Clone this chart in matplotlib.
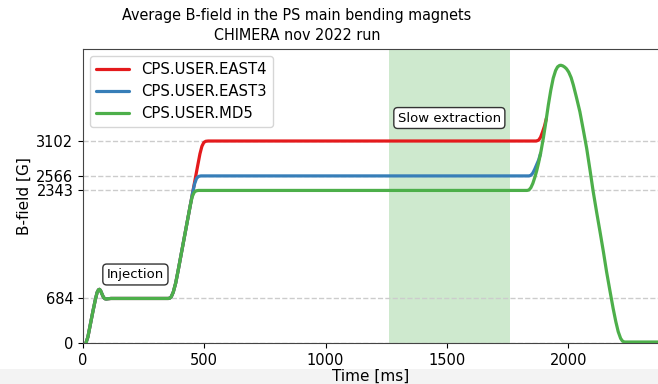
import matplotlib
matplotlib.use("Agg")
import matplotlib.pyplot as plt
from matplotlib.patches import Rectangle

# ---- data ----
# common injection / first ramp part (all cycles identical)
t_inj = [12, 20, 30, 40, 50, 58, 64, 68, 72, 78, 84, 90, 96, 104, 115,
         352, 358, 364, 372, 382, 392, 402, 412, 422, 432, 442]
b_inj = [0, 90, 280, 470, 650, 775, 818, 824, 808, 755, 705, 680, 676, 680, 684,
         684, 690, 712, 780, 920, 1110, 1310, 1510, 1710, 1910, 2110]

t_md5 = [450, 458, 466, 476,
         1830, 1838, 1846, 1854, 1862, 1870, 1878, 1888, 1898, 1908, 1918, 1928, 1938,
         1948, 1956, 1964, 1970, 1978, 1986, 1993, 2002, 2012, 2021, 2034, 2048, 2062,
         2076, 2090, 2103, 2117, 2131, 2145, 2158, 2172, 2185, 2196, 2206, 2216, 2224,
         2232, 2370]
b_md5 = [2245, 2312, 2337, 2343,
         2343, 2350, 2385, 2450, 2540, 2645, 2770, 2950, 3160, 3400, 3655, 3880, 4065,
         4185, 4240, 4262, 4265, 4255, 4235, 4210, 4160, 4075, 3962, 3770, 3552, 3275,
         2990, 2650, 2323, 2010, 1709, 1400, 1095, 800, 533, 330, 174, 70, 28,
         15, 15]

t_east3 = [452, 460, 468, 476, 486,
           1838, 1846, 1854, 1862, 1870, 1878, 1886]
b_east3 = [2310, 2445, 2528, 2558, 2566,
           2566, 2575, 2610, 2670, 2740, 2810, 2910]

t_east4 = [452, 462, 472, 482, 490, 498, 506, 516,
           1868, 1878, 1886, 1894, 1902, 1910]
b_east4 = [2310, 2510, 2710, 2905, 3020, 3080, 3098, 3102,
           3102, 3115, 3160, 3240, 3330, 3450]

labels = ["CPS.USER.EAST4", "CPS.USER.EAST3", "CPS.USER.MD5"]
colors = ["#e41a1c", "#377eb8", "#4daf4a"]
ytick_vals = [0, 684, 2343, 2566, 3102]
xtick_vals = [0, 500, 1000, 1500, 2000]
slow_extraction = (1260, 1760)

# ---- figure ----
W, H = 658, 384
fig = plt.figure(figsize=(W / 100, H / 100), dpi=100)
fig.patches.append(Rectangle((0, 0), 1, 15 / H, transform=fig.transFigure,
                             facecolor="#f3f3f3", edgecolor="none", zorder=-10))
left, right, bottom, top = 83, 658, 343, 49
ax = fig.add_axes([left / W, (H - bottom) / H, (right - left) / W, (bottom - top) / H])

ax.axvspan(*slow_extraction, color="#4daf4a", alpha=0.27, lw=0, zorder=0)
series = [(t_east4, b_east4), (t_east3, b_east3), (t_md5, b_md5)]
for (t, b), lab, c in zip(series, labels, colors):
    ax.plot(t_inj + t, b_inj + b, color=c, lw=2.3, label=lab, zorder=3,
            solid_capstyle="round", solid_joinstyle="round")

ax.set_xlim(0, 2370)
ax.set_ylim(0, 4515)
ax.set_xticks(xtick_vals)
ax.set_yticks(ytick_vals)
ax.tick_params(labelsize=10.5)
ax.grid(axis="y", linestyle="--", color="#cccccc", lw=1)
ax.set_axisbelow(True)
ax.spines["right"].set_visible(False)
for s in ["left", "bottom", "top"]:
    ax.spines[s].set_color("#444444")

ax.set_xlabel("Time [ms]", fontsize=11, labelpad=1)
ax.set_ylabel("B-field [G]", fontsize=11, labelpad=3)

bbox = dict(boxstyle="round,pad=0.3", facecolor="white", edgecolor="#333333")
ax.text(216, 1052, "Injection", ha="center", va="center", fontsize=9.5, bbox=bbox, zorder=5)
ax.text(1510, 3455, "Slow extraction", ha="center", va="center", fontsize=9.5, bbox=bbox, zorder=5)

ax.legend(loc="upper left", fontsize=10.7, frameon=True, handlelength=2.2,
          handletextpad=0.8, borderaxespad=0.5, labelspacing=0.45)

fig.text(297 / W, 1 - 8 / H, "Average B-field in the PS main bending magnets\nCHIMERA nov 2022 run",
         ha="center", va="top", fontsize=11.5, fontstretch="condensed", linespacing=1.42)

fig.savefig("out.png", dpi=100)
